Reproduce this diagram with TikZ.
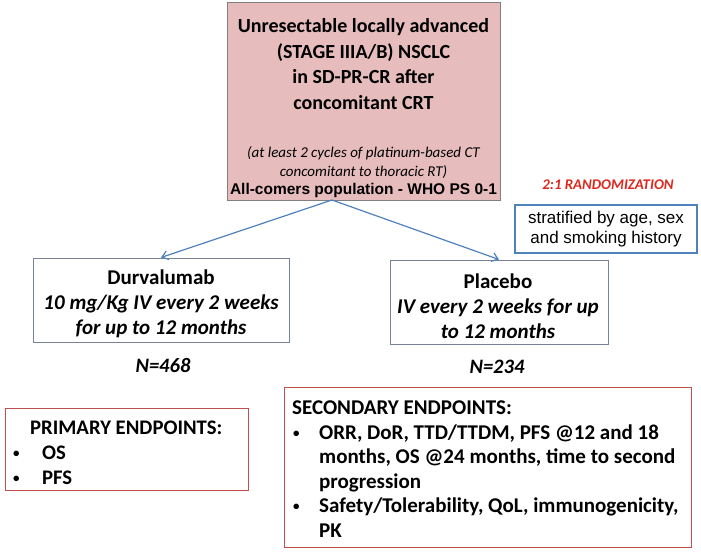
\documentclass[tikz,border=0pt]{standalone}
\usepackage{fontspec}
\setmainfont{Carlito}
\newfontfamily\arialfont{Liberation Sans}
\usetikzlibrary{arrows.meta, positioning}

\definecolor{popfill}{RGB}{230,188,188}
\definecolor{boxgray}{RGB}{128,128,128}
\definecolor{armgray}{RGB}{120,130,150}
\definecolor{arrowblue}{RGB}{79,129,189}
\definecolor{endred}{RGB}{192,80,77}
\definecolor{randred}{RGB}{220,40,30}

\newcommand{\epbullet}{\raisebox{2pt}{\fontsize{13}{13}\selectfont\textbullet}}

\begin{document}
\begin{tikzpicture}[
                x = 1pt, y = -1pt,
                popbox/.style = {
                    rectangle,
                    draw            = boxgray,
                    fill            = popfill,
                    line width      = 1pt,
                    minimum width   = 273pt,
                    minimum height  = 198pt
                },
                armbox/.style = {
                    rectangle,
                    draw            = armgray,
                    line width      = 1pt
                },
                armtext/.style = {
                    align           = center,
                    inner sep       = 0pt,
                    font            = \fontsize{21}{24.8}\selectfont\bfseries
                },
                endbox/.style = {
                    rectangle,
                    draw            = endred,
                    line width      = 1pt
                },
                stratbox/.style = {
                    rectangle,
                    draw            = arrowblue,
                    line width      = 1.5pt,
                    align           = center,
                    minimum width   = 182pt,
                    minimum height  = 48pt,
                    font            = \arialfont\fontsize{17}{19.5}\selectfont
                },
                nlabel/.style = {
                    font            = \fontsize{20.5}{22}\selectfont\bfseries\itshape
                },
                splitarrow/.style = {
                    draw            = arrowblue,
                    line width      = 1.2pt,
                    -{Straight Barb[length=6pt, width=9pt]}
                }
            ]

                \useasboundingbox (0, 0) rectangle (701, 552);

                % population
                \node[popbox] (pop) at (363.5, 101) {};
                \node[align=center, font=\fontsize{20}{25.5}\selectfont\bfseries]
                    (poptitle) at (363.5, 64) {Unresectable locally advanced\\(STAGE IIIA/B) NSCLC\\in SD-PR-CR after\\concomitant CRT};
                \node[align=center, font=\fontsize{15}{19}\selectfont\itshape]
                    (popnote) at (363.5, 163) {(at least 2 cycles of platinum-based CT\\concomitant to thoracic RT)};
                \node[font=\arialfont\fontsize{15.5}{18}\selectfont\bfseries]
                    (popall) at (363.5, 190) {All-comers population - WHO PS 0-1};

                % randomization
                \node[font=\fontsize{14.8}{16}\selectfont\bfseries\itshape, text=randred]
                    (rand) at (608, 185) {2:1 RANDOMIZATION};
                \node[stratbox] (strat) at (606, 229) {stratified by age, sex\\and smoking history};

                % arms
                \node[armbox, minimum width=256pt, minimum height=84pt] (durva) at (161, 300) {};
                \node[armtext] (durvatext) at (161, 304)
                    {Durvalumab\\\itshape 10 mg/Kg IV every 2 weeks\\\itshape for up to 12 months};
                \node[armbox, minimum width=218pt, minimum height=84pt] (placebo) at (499, 302) {};
                \node[armtext] (placebotext) at (498, 306.5)
                    {Placebo\\\itshape IV every 2 weeks for up\\\itshape to 12 months};
                \node[nlabel] (ndurva) at (163, 365) {N=468};
                \node[nlabel] (nplacebo) at (497, 367) {N=234};

                \coordinate (split) at (332, 200);
                \draw[splitarrow] (split) -- (durva.north);
                \draw[splitarrow] (split) -- (placebo.north);

                % endpoints
                \node[endbox, minimum width=243pt, minimum height=82pt] (primbox) at (126.5, 449) {};
                \node[anchor=north west, inner sep=0pt, font=\fontsize{20.7}{25}\selectfont\bfseries]
                    (primtext) at (13, 416.5) {%
                    \begin{tabular}{@{}p{29pt}@{}l@{}}
                        \multicolumn{2}{@{}l@{}}{\hspace{17pt}PRIMARY ENDPOINTS:}\\
                        \epbullet & OS\\
                        \epbullet & PFS
                    \end{tabular}};

                \node[endbox, minimum width=407pt, minimum height=160pt] (secbox) at (487.5, 467) {};
                \node[anchor=north west, inner sep=0pt, font=\fontsize{21}{24.5}\selectfont\bfseries]
                    (sectext) at (292, 397.5) {%
                    \begin{tabular}{@{}p{27pt}@{}l@{}}
                        \multicolumn{2}{@{}l@{}}{SECONDARY ENDPOINTS:}\\
                        \hspace{1pt}\epbullet & ORR, DoR, TTD/TTDM, PFS @12 and 18\\
                                              & months, OS @24 months, time to second\\
                                              & progression\\
                        \hspace{1pt}\epbullet & Safety/Tolerability, QoL, immunogenicity,\\
                                              & PK
                    \end{tabular}};
            \end{tikzpicture}
\end{document}
